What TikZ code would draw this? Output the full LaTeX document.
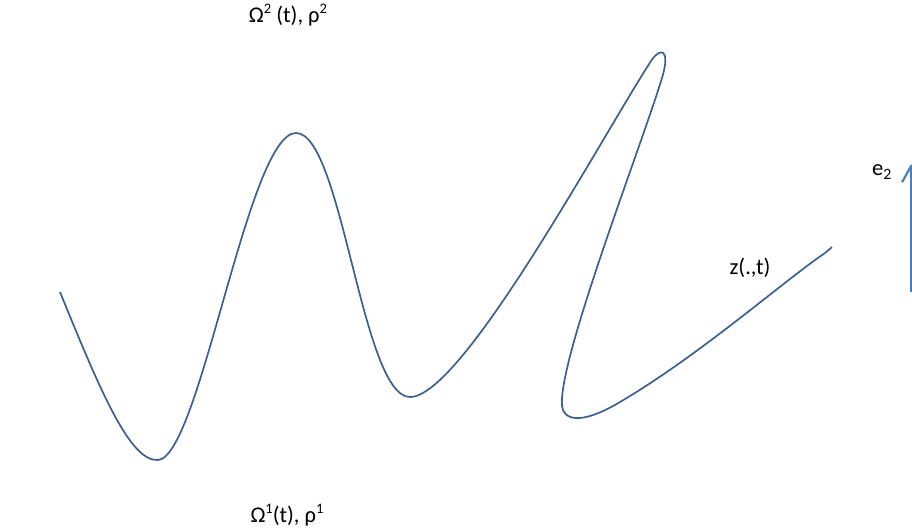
\documentclass[tikz,border=0pt]{standalone}
\usepackage{fontspec}
\setmainfont{Carlito}
\usetikzlibrary{arrows.meta}
\definecolor{curvecol}{RGB}{60,96,146}
\definecolor{axcol}{RGB}{74,126,187}
\newcommand{\supnum}[1]{\raisebox{0.42em}{\fontsize{14.5}{15}\selectfont #1}}

\begin{document}
\begin{tikzpicture}[
    x=1pt, y=-1pt,
    curve/.style={draw=curvecol, line width=1.7pt, line join=round},
    axarrow/.style={-{Straight Barb[length=16pt, width=18pt, line width=2.2pt]}, draw=axcol, line width=2.4pt},
    lbl/.style={font=\fontsize{22.5}{26}\selectfont, inner sep=0pt},
]
\useasboundingbox (0,0) rectangle (912,531);
% the interface z(.,t)
\draw[curve] (60,292) .. controls (100,390) and (130,462) .. (158,460)
    .. controls (200,457) and (248,133) .. (296,133)
    .. controls (342,133) and (362,397) .. (410,397)
    .. controls (462,397) and (600,140) .. (651,61)
    .. controls (660,47) and (671,48) .. (662,78)
    .. controls (640,150) and (558,360) .. (562,406)
    .. controls (565,425) and (590,420) .. (620,402)
    .. controls (700,355) and (785,280) .. (825,253)
    -- (832,247);
\node[lbl] (omtwo) at (288,15) {Ω\supnum{2} (t), ρ\supnum{2}};
\node[lbl] (omone) at (287,515) {Ω\supnum{1}(t), ρ\supnum{1}};
\node[lbl] (zlbl) at (750,268) {z(.,t)};
% direction e_2
\coordinate (ebase) at (911,292);
\coordinate (etip) at (911,164);
\draw[axarrow] (ebase) -- (etip);
\node[lbl] (elbl) at (882,172) {e\textsubscript{2}};
\end{tikzpicture}
\end{document}
